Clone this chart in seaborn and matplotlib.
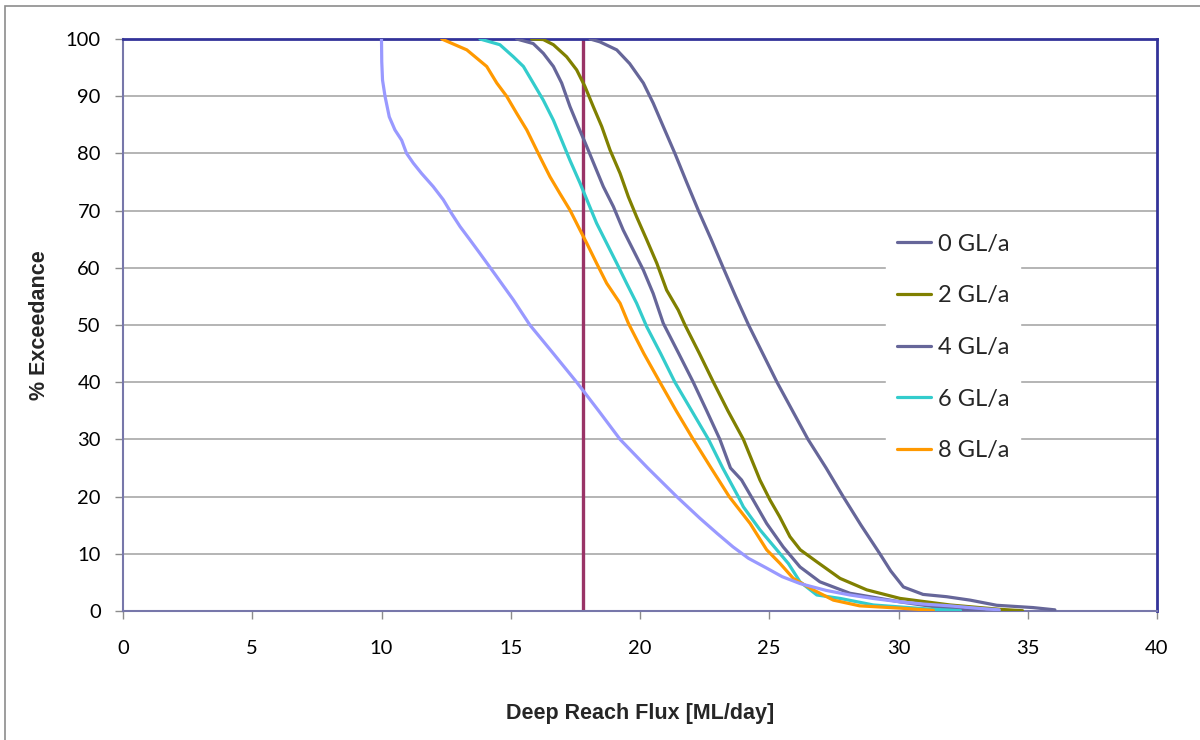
import matplotlib
matplotlib.use("Agg")
import matplotlib.pyplot as plt
from matplotlib.patches import Rectangle
from matplotlib.lines import Line2D
import numpy as np
import pandas as pd
import seaborn as sns

# ---- data ----
series_names = ["0 GL/a", "2 GL/a", "4 GL/a", "6 GL/a", "8 GL/a", "10 GL/a"]
legend_names = ["0 GL/a", "2 GL/a", "4 GL/a", "6 GL/a", "8 GL/a"]
series_colors = ["#666699", "#808000", "#666699", "#33CCCC", "#FF9900", "#9999FF"]

flux_0 = [18.07, 18.45, 19.1, 19.6, 20.13, 20.51, 20.9, 21.35, 21.8, 22.26, 22.75, 23.22, 23.7, 24.2,
          24.75, 25.3, 25.9, 26.5, 27.2, 27.86, 28.55, 29.28, 29.7, 30.19, 30.95, 31.86, 32.77, 33.8,
          35.2, 36.05]
exc_0 = [100, 99.5, 98.1, 95.7, 92.3, 88.8, 84.7, 80, 75, 70, 65, 60, 55, 50,
         45, 40, 35, 30, 25, 20, 15, 10, 7, 4.2, 2.9, 2.5, 1.9, 1.0,
         0.6, 0.2]

flux_2 = [15.81, 16.26, 16.65, 17.16, 17.55, 17.87, 18.19, 18.52, 18.84, 19.23, 19.55, 19.87, 20.26,
          20.65, 21.03, 21.48, 21.74, 22.3, 22.84, 23.4, 24.0, 24.64, 25.03, 25.4, 25.8, 26.2, 26.84,
          27.74, 28.77, 30.06, 32.0, 33.9, 34.8]
exc_2 = [100, 99.9, 99.0, 96.9, 94.6, 91.7, 88.2, 84.7, 80.6, 76.5, 72.4, 68.9, 64.9,
         60.8, 56.1, 52.6, 50, 45, 40, 35, 30, 22.9, 19.4, 16.5, 13, 10.7, 8.6,
         5.7, 3.7, 2.2, 1.05, 0.3, 0.05]

flux_4 = [15.23, 15.87, 16.26, 16.65, 16.97, 17.29, 17.61, 17.94, 18.26, 18.58, 18.97, 19.35, 19.74,
          20.13, 20.51, 20.9, 21.5, 22.06, 22.58, 23.09, 23.5, 23.93, 24.38, 24.9, 25.54, 26.19,
          26.96, 28.12, 30.06, 31.3, 32.6, 33.3]
exc_4 = [100, 99.2, 97.5, 95.2, 92.3, 88.2, 84.7, 81.2, 77.7, 74.2, 70.7, 66.6, 63.1,
         59.6, 55.5, 50.3, 45, 40, 35, 30, 25, 22.9, 19.4, 15.3, 11.2, 7.7,
         5.1, 3.1, 1.6, 0.8, 0.2, 0.05]

flux_6 = [13.81, 14.58, 15.1, 15.49, 15.87, 16.26, 16.65, 16.97, 17.29, 17.68, 18.0, 18.32, 18.71,
          19.1, 19.48, 19.87, 20.26, 20.8, 21.35, 22.0, 22.65, 23.2, 23.8, 24.0, 24.64, 25.29, 25.74,
          26.19, 26.84, 27.74, 29.03, 31.3, 32.4]
exc_6 = [100, 99.0, 96.9, 95.2, 92.3, 89.3, 85.8, 82.3, 78.8, 74.8, 71.3, 67.8, 64.3,
         60.8, 57.3, 53.8, 49.7, 45, 40, 35, 30, 25, 20, 18.2, 14.2, 10.7, 8.3,
         5.1, 2.8, 2.2, 1.05, 0.3, 0.05]

flux_8 = [12.33, 13.3, 14.07, 14.46, 14.84, 15.23, 15.62, 15.87, 16.13, 16.52, 16.9, 17.29, 17.68,
          17.94, 18.32, 18.71, 19.23, 19.55, 20.15, 20.77, 21.4, 22.06, 22.75, 23.45, 24.26, 24.9,
          25.42, 25.93, 26.7, 27.48, 28.5, 30.06, 31.35]
exc_8 = [100, 98.1, 95.2, 92.3, 90, 87, 84.1, 81.8, 79.4, 75.9, 73, 70.1, 66.6,
         64.3, 60.8, 57.3, 53.8, 50.3, 45, 40, 35, 30, 25, 20, 15.3, 10.7,
         8.3, 5.7, 3.7, 1.9, 0.9, 0.5, 0.1]

flux_10 = [10.0, 10.01, 10.04, 10.14, 10.3, 10.52, 10.78, 10.97, 11.23, 11.55, 12.0, 12.39, 12.71,
           13.04, 13.42, 13.81, 14.45, 15.1, 15.74, 16.65, 17.55, 18.4, 19.23, 20.3, 21.42, 22.32,
           23.0, 23.6, 24.2, 24.9, 25.5, 26.19, 27.2, 28.12, 29.0, 30.06, 31.0, 32.0, 33.0, 33.9]
exc_10 = [100, 96, 92.8, 89.9, 86.4, 84.1, 82.3, 80, 78.3, 76.5, 74.2, 71.9, 69.5,
          67.2, 64.9, 62.5, 58.5, 54.4, 50, 45, 40, 35, 30, 25, 20, 16.2,
          13.5, 11.2, 9.2, 7.5, 6.0, 4.8, 3.6, 2.8, 2.2, 1.6, 1.2, 0.9, 0.5, 0.2]

threshold_flux = 17.8

x_ticks = [0, 5, 10, 15, 20, 25, 30, 35, 40]
y_ticks = [0, 10, 20, 30, 40, 50, 60, 70, 80, 90, 100]
x_label = "Deep Reach Flux [ML/day]"
y_label = "% Exceedance"

flux_all = [flux_0, flux_2, flux_4, flux_6, flux_8, flux_10]
exc_all = [exc_0, exc_2, exc_4, exc_6, exc_8, exc_10]

frames = []
for name, fx, ey in zip(series_names, flux_all, exc_all):
    frames.append(pd.DataFrame({"series": name, "flux": fx, "exceedance": ey}))
df = pd.concat(frames, ignore_index=True)

# ---- styling ----
sns.set_theme(style="white")
plt.rcParams["font.family"] = ["Lato", "DejaVu Sans"]

fig = plt.figure(figsize=(12, 7.4), dpi=100)
ax = fig.add_axes([123 / 1200, 1 - 611 / 740, (1157 - 123) / 1200, (611 - 39) / 740])

# outer chart border
fig.add_artist(Rectangle((5 / 1200, -0.05), 1.2, 1 - 6 / 740 + 0.05, transform=fig.transFigure,
                         fill=False, edgecolor="#8C8C8C", lw=1.2, clip_on=False))

ax.axvline(threshold_flux, color="#993366", lw=2.4, zorder=2)

palette = dict(zip(series_names, series_colors))
sns.lineplot(data=df, x="flux", y="exceedance", hue="series", hue_order=series_names,
             palette=palette, estimator=None, sort=False, units="series", lw=2.3,
             legend=False, ax=ax, zorder=3)

ax.set_xlim(0, 40)
ax.set_ylim(0, 100)
ax.set_xticks(x_ticks)
ax.set_yticks(y_ticks)
ax.set_xticklabels([str(v) for v in x_ticks])
ax.set_yticklabels([str(v) for v in y_ticks])
ax.grid(axis="y", color="#A0A0A0", lw=1.1, zorder=0)
ax.grid(axis="x", visible=False)
ax.set_axisbelow(True)

ax.tick_params(axis="both", which="major", direction="out", length=6, width=1,
               color="#8C8C8C", labelsize=14.5, labelcolor="black")
ax.tick_params(axis="x", pad=15)
ax.tick_params(axis="y", pad=10)
ax.xaxis.set_ticks_position("bottom")
ax.yaxis.set_ticks_position("left")

for side in ["top", "right"]:
    ax.spines[side].set_color("#333399")
    ax.spines[side].set_linewidth(2)
for side in ["left", "bottom"]:
    ax.spines[side].set_color("#7777AA")
    ax.spines[side].set_linewidth(1.5)

ax.set_xlabel(x_label, family=["Liberation Sans", "DejaVu Sans"], fontweight="bold",
              fontsize=15.5, labelpad=33)
ax.set_ylabel(y_label, family=["Liberation Sans", "DejaVu Sans"], fontweight="bold",
              fontsize=15.5, labelpad=11)

handles = [Line2D([0], [0], color=c, lw=2.3) for c in series_colors[:5]]
leg = ax.legend(handles, legend_names, loc="upper left",
                bbox_to_anchor=(886 / 1200, 1 - 223 / 740), bbox_transform=fig.transFigure,
                frameon=True, fancybox=False, framealpha=1, facecolor="white", edgecolor="white",
                fontsize=17, handlelength=1.45, handletextpad=0.3, labelspacing=1.3,
                borderpad=0.45, borderaxespad=0)
leg.set_zorder(5)

fig.savefig("out.png", dpi=100, facecolor="white")
